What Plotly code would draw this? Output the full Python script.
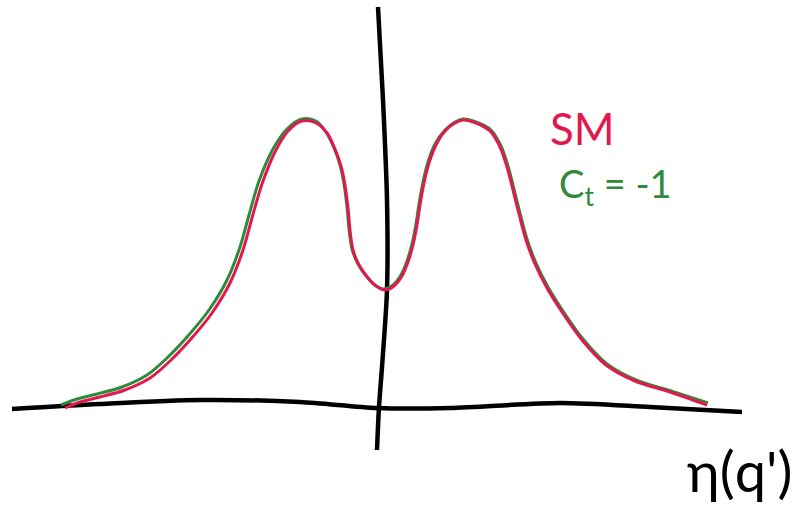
import plotly.graph_objects as go

# Sketch of eta(q') : SM versus C_t = -1  (q' horizontal, eta vertical, arbitrary units)

# SM curve
sm_q = [-318, -303, -283, -258, -233, -213, -193, -171, -153, -140, -131, -121, -108, -95, -81,
        -67, -56, -48, -42, -38, -35, -33, -30, -24, -15, -7, 2, 11, 19, 25, 30, 34, 37, 41, 46,
        53, 62, 72, 80, 93, 107, 117, 124, 130, 136, 143, 152, 164, 179, 199, 223, 252, 287, 324]
sm_eta = [0, 6, 11, 18, 30, 47, 68, 95, 125, 158, 190, 224, 256, 277, 287,
          285, 275, 259, 242, 223, 200, 178, 158, 143, 130, 122, 118, 122, 132, 146, 163, 183, 203, 225, 245,
          263, 277, 285, 288, 285, 277, 261, 241, 218, 194, 168, 144, 120, 96, 68, 43, 27, 16, 3]

# C_t = -1 curve
ct_q = [-322, -306, -286, -261, -236, -216, -196, -174, -156, -143, -134, -124, -110, -96, -81,
        -67, -57, -49, -43, -39, -36, -34, -31, -25, -16, -8, 0, 10, 18, 24, 29, 33, 36, 40, 45,
        52, 62, 72, 80, 93, 108, 118, 125, 131, 137, 144, 153, 165, 180, 200, 224, 253, 288, 325]
ct_eta = [3, 9, 14, 21, 33, 50, 71, 98, 128, 161, 193, 227, 259, 279, 289,
          287, 276, 260, 243, 224, 201, 179, 159, 144, 131, 123, 119, 123, 133, 147, 164, 184, 204, 226, 246,
          264, 278, 286, 289, 286, 278, 262, 242, 219, 195, 169, 145, 121, 97, 69, 44, 28, 17, 5]

# hand-drawn axes
axis_h_q = [-371, -283, -183, -83, -6, 67, 177, 267, 359]
axis_h_eta = [-1, 4, 8, 6, 0, 0, 5, 1, -4]
axis_v_q = [-5, 0, 4, 4, -1, -4, -6]
axis_v_eta = [401, 308, 208, 118, 41, 1, -42]

RED = "#E2184F"
GREEN = "#2F8A3B"
INK = "#000000"

fig = go.Figure()

fig.add_trace(go.Scatter(x=axis_h_q, y=axis_h_eta, mode="lines",
                         line=dict(color=INK, width=4.5, shape="spline", smoothing=0.8),
                         hoverinfo="skip"))
fig.add_trace(go.Scatter(x=axis_v_q, y=axis_v_eta, mode="lines",
                         line=dict(color=INK, width=4.5, shape="spline", smoothing=0.8),
                         hoverinfo="skip"))
fig.add_trace(go.Scatter(x=ct_q, y=ct_eta, mode="lines", name="C_t = -1",
                         line=dict(color=GREEN, width=3, shape="spline", smoothing=0.9)))
fig.add_trace(go.Scatter(x=sm_q, y=sm_eta, mode="lines", name="SM",
                         line=dict(color=RED, width=3, shape="spline", smoothing=0.9)))

W, H = 803, 515

def px(x, y):
    return x / W, 1 - y / H

font_family = "Lato, Open Sans, DejaVu Sans, sans-serif"

labels = [
    ("SM", 582, 128, 44, RED),
    ("C<sub>t</sub> = -1", 615, 186, 38, GREEN),
    ("η(q')", 739, 470, 56, INK),
]
for text, lx, ly, size, color in labels:
    ax_, ay_ = px(lx, ly)
    fig.add_annotation(x=ax_, y=ay_, xref="paper", yref="paper", text=text,
                       showarrow=False, xanchor="center", yanchor="middle",
                       font=dict(family=font_family, size=size, color=color))

fig.update_xaxes(visible=False, range=[-383, 420])
fig.update_yaxes(visible=False, range=[-107, 408])
fig.update_layout(width=W, height=H, margin=dict(l=0, r=0, t=0, b=0),
                  paper_bgcolor="white", plot_bgcolor="white", showlegend=False)

fig.write_html("out.html")
